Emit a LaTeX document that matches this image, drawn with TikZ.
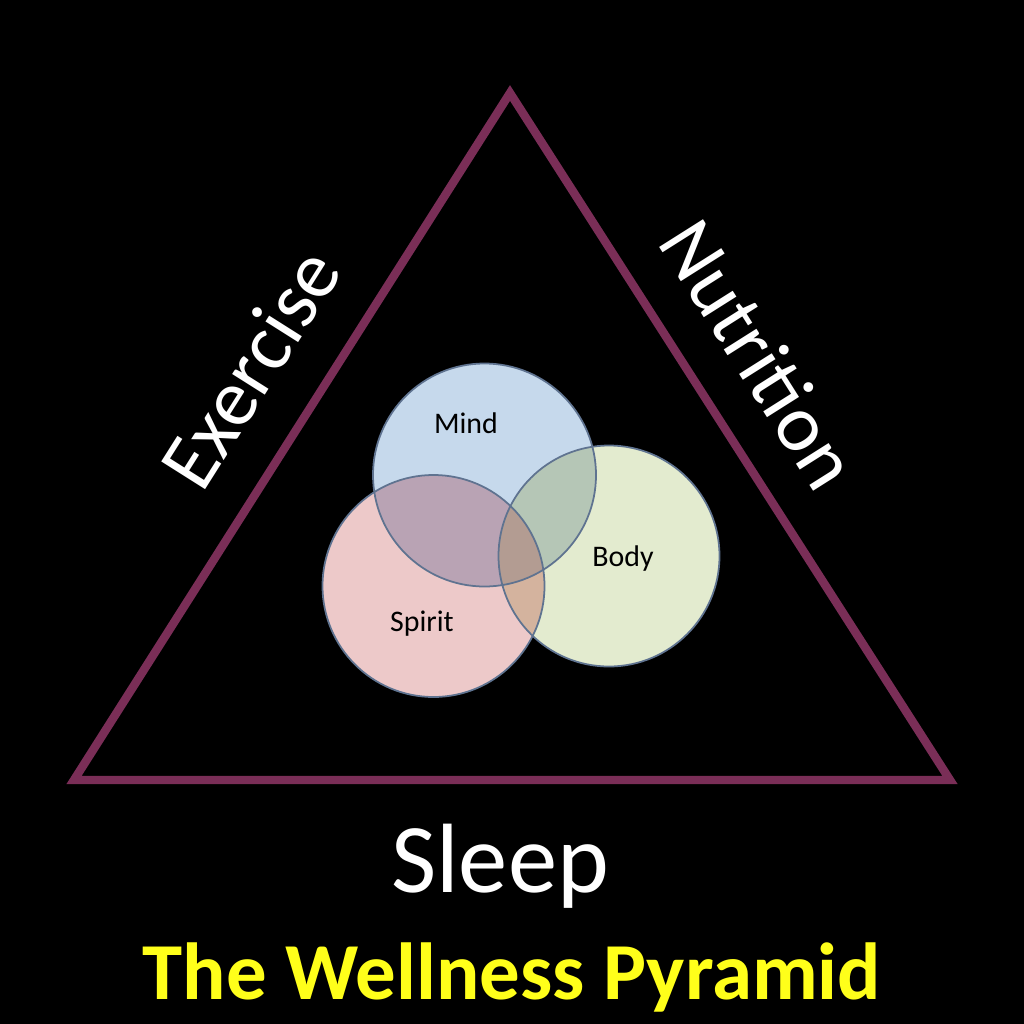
\documentclass[tikz,border=0pt]{standalone}
\usepackage{fontspec}
\setmainfont{Carlito}
\usetikzlibrary{positioning}
\definecolor{pyrline}{HTML}{7A2E57}
\definecolor{mindcol}{HTML}{C6D9EC}
\definecolor{bodycol}{HTML}{E3EBCF}
\definecolor{spiritcol}{HTML}{EDC9C9}
\definecolor{msCol}{HTML}{B9A3B4}
\definecolor{mbCol}{HTML}{B5C6B6}
\definecolor{sbCol}{HTML}{D4B39E}
\definecolor{allCol}{HTML}{B39C92}
\definecolor{ringcol}{HTML}{5F7390}
\definecolor{titlecol}{HTML}{FFFF1A}

\begin{document}
\begin{tikzpicture}[x=0.01cm,y=-0.01cm,
		side/.style={text=white,font=\fontsize{23}{27}\selectfont,inner sep=0pt},
		inner/.style={text=black,font=\fontsize{8.5}{10}\selectfont,inner sep=0pt},
		ring/.style={draw=ringcol,line width=0.5pt}]
		\fill[black] (0,0) rectangle (1024,1024);
		\useasboundingbox (0,0) rectangle (1024,1024);
		
		\coordinate (top)   at (510,93);
		\coordinate (left)  at (74,780);
		\coordinate (right) at (950,780);
		\draw[pyrline,line width=2.4pt,line join=miter] (top) -- (left) -- (right) -- cycle;
		
		\coordinate (mind)   at (484.5,475);
		\coordinate (body)   at (609,556);
		\coordinate (spirit) at (433.5,586);
		
		\fill[mindcol]   (mind) circle (111.5);
		\fill[spiritcol] (spirit) circle (111);
		\fill[bodycol]   (body) circle (110.5);
		
		% overlaps
		\begin{scope}
			\clip (mind) circle (111.5);
			\fill[msCol] (spirit) circle (111);
			\fill[mbCol] (body) circle (110.5);
		\end{scope}
		\begin{scope}
			\clip (spirit) circle (111);
			\fill[sbCol] (body) circle (110.5);
			\clip (body) circle (110.5);
			\fill[allCol] (mind) circle (111.5);
		\end{scope}
		
		\draw[ring] (mind) circle (111.5);
		\draw[ring] (spirit) circle (111);
		\draw[ring] (body) circle (110.5);
		
		\node[inner] (mindtxt)   at (466,423) {Mind};
		\node[inner] (bodytxt)   at (623,559) {Body};
		\node[inner] (spirittxt) at (422,624) {Spirit};
		
		\node[side,rotate=57.7]  (exercise)  at (250,368) {Exercise};
		\node[side,rotate=-57.7] (nutrition) at (760,354) {Nutrition};
		\node[side,font=\fontsize{28}{32}\selectfont] (sleep) at (500,866) {Sleep};
		\node[text=titlecol,font=\fontsize{23}{27}\selectfont\bfseries,inner sep=0pt]
			(title) at (512,977) {The Wellness Pyramid};
\end{tikzpicture}
\end{document}
